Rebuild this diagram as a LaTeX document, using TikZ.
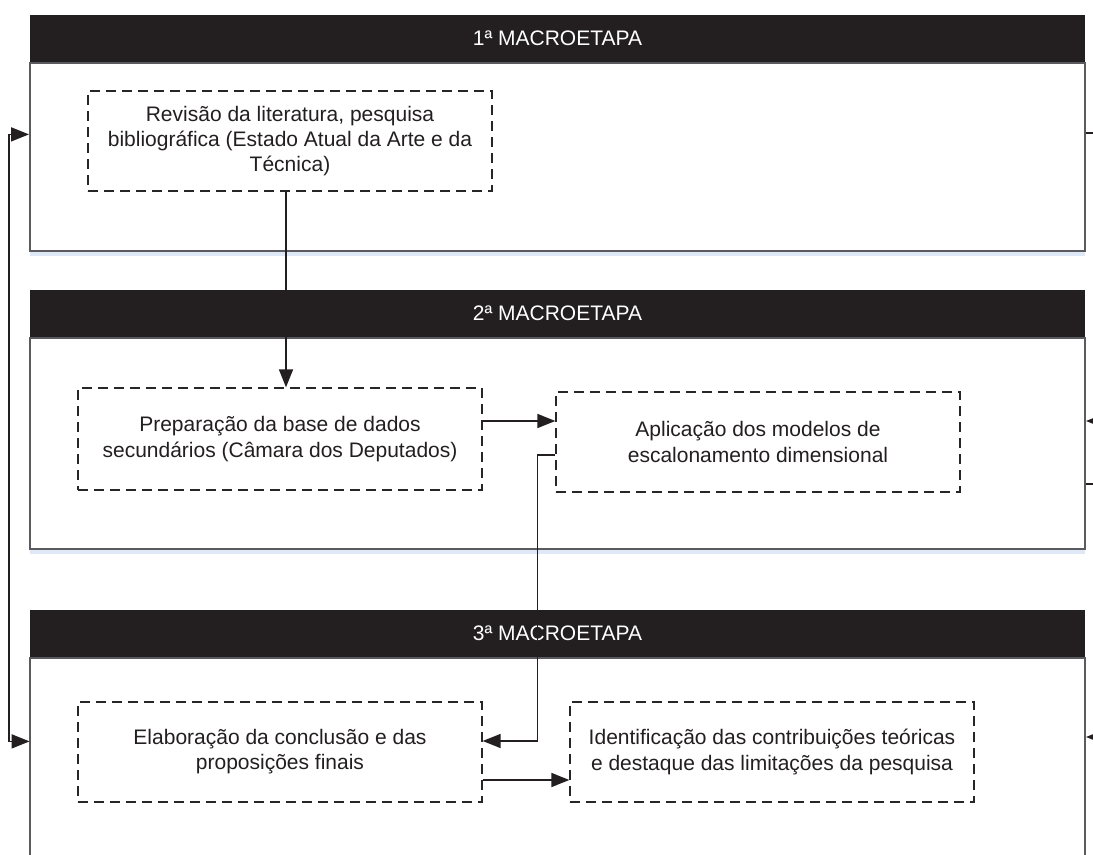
\documentclass[tikz,border=0pt]{standalone}
\usepackage{fontspec}
\setmainfont{Liberation Sans}
\usetikzlibrary{positioning, calc, arrows.meta, shadows}
\definecolor{headblack}{RGB}{35,31,32}
\definecolor{framegray}{RGB}{90,90,95}
\definecolor{glowblue}{RGB}{222,232,246}

\begin{document}
\begin{tikzpicture}[x=0.5pt, y=0.5pt,
    font=\fontsize{10.5}{12.6}\selectfont,
    header/.style={fill=headblack, text=white, minimum width=527.5pt, minimum height=23.5pt,
        inner sep=0pt, drop shadow={shadow xshift=0pt, shadow yshift=-2pt, fill=glowblue, opacity=1}},
    frame/.style={draw=framegray, line width=1pt, fill=white, minimum width=527.5pt, inner sep=0pt,
        drop shadow={shadow xshift=0pt, shadow yshift=-2.5pt, fill=glowblue, opacity=1}},
    task/.style={draw=black!85, dash pattern=on 5pt off 3pt, line width=0.65pt, fill=white,
        align=center, text=headblack, minimum width=202pt, minimum height=50pt, inner sep=2pt},
    link/.style={line width=0.8pt, headblack},
    tip/.style={-{Triangle[length=9pt, width=7pt]}},
    bothtips/.style={{Triangle[length=9pt, width=7pt]}-{Triangle[length=9pt, width=7pt]}}]
    \useasboundingbox (0,0) rectangle (1093,-855);
    \clip (0,0) rectangle (1093,-855);
    % stages
    \node[header] (header1) at (557.5,-38.5) {1ª MACROETAPA};
    \node[frame, minimum height=94pt, below=0pt of header1] (frame1) {};
    \node[header] (header2) at (557.5,-313.5) {2ª MACROETAPA};
    \node[frame, minimum height=105.5pt, below=0pt of header2] (frame2) {};
    \node[header] (header3) at (557.5,-633.5) {3ª MACROETAPA};
    \node[frame, minimum height=110pt, below=0pt of header3] (frame3) {};
    % tasks
    \node[task] (revisao) at (290,-141) {Revisão da literatura, pesquisa\\bibliográfica (Estado Atual da Arte e da\\Técnica)};
    \node[task, minimum height=51pt] (preparo) at (280,-439) {Preparação da base de dados\\secundários (Câmara dos Deputados)};
    \node[task] (aplica) at (758,-442) {Aplicação dos modelos de\\escalonamento dimensional};
    \node[task] (conclui) at (280,-752) {Elaboração da conclusão e das\\proposições finais};
    \node[task] (identifica) at (772,-752) {Identificação das contribuições teóricas\\e destaque das limitações da pesquisa};
    % connectors
    \coordinate (revout) at ($(revisao.south)+(-4,0)$);
    \coordinate (prepout) at ($(preparo.east)+(0,18)$);
    \coordinate (aplout) at ($(aplica.west)+(0,-13)$);
    \coordinate (jog) at ($(conclui.east)+(55,11)$);
    \coordinate (concout) at ($(conclui.east)+(0,-28)$);
    \draw[link, tip] (revout) -- (revout |- preparo.north);
    \draw[link, tip] (prepout) -- (prepout -| aplica.west);
    \draw[link, tip] (aplout) -| (jog) -- (jog -| conclui.east);
    \draw[link, tip] (concout) -- (concout -| identifica.west);
    % feedback loop on the left
    \coordinate (loopout) at ($(frame1.west)+(0,23)$);
    \coordinate (loopin) at ($(header3.south west)+(0,-84)$);
    \draw[link, bothtips] (loopout) -- ++(-20,0) |- (loopin);
    % links leaving on the right
    \coordinate (outA) at (1093,-133);
    \coordinate (outB) at (1095,-421);
    \coordinate (outC) at (1093,-484);
    \coordinate (outD) at (1095,-737);
    \draw[link] (frame1.east |- outA) -- (outA);
    \draw[link, tip] (outB) -- (frame2.east |- outB);
    \draw[link] (frame2.east |- outC) -- (outC);
    \draw[link, tip] (outD) -- (frame3.east |- outD);
\end{tikzpicture}
\end{document}
